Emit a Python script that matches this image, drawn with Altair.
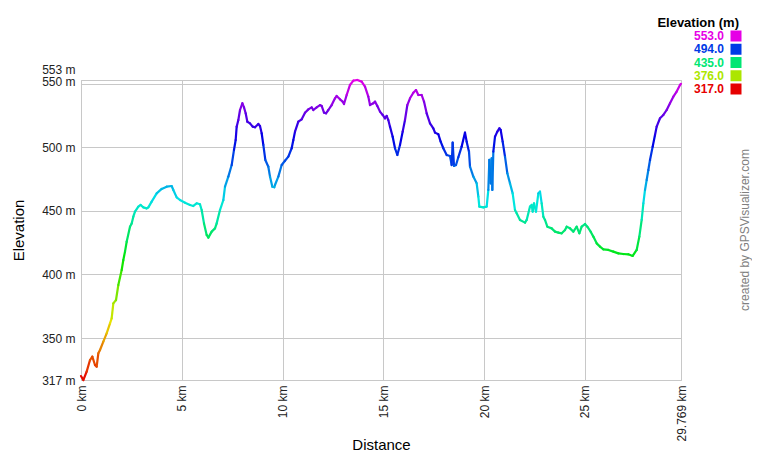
import altair as alt
import pandas as pd

# ---- data (distance in km, elevation in m) ----
distance_km = [
    0.0, 0.116, 0.281, 0.447, 0.562, 0.695, 0.777, 0.860, 0.943, 1.108,
    1.273, 1.439, 1.521, 1.604, 1.737, 1.852, 2.018, 2.100, 2.183, 2.266,
    2.431, 2.514, 2.596, 2.679, 2.845, 2.960, 3.093, 3.258, 3.341, 3.506,
    3.754, 4.002, 4.251, 4.499, 4.581, 4.747, 4.912, 5.160, 5.408, 5.573,
    5.739, 5.904, 5.987, 6.103, 6.235, 6.318, 6.484, 6.648, 6.731, 6.896,
    7.062, 7.145, 7.310, 7.476, 7.591, 7.674, 7.724, 7.806, 7.889, 8.005,
    8.087, 8.170, 8.253, 8.385, 8.517, 8.633, 8.798, 8.881, 8.964, 9.046,
    9.146, 9.295, 9.377, 9.493, 9.592,
    9.625, 9.791, 9.956, 10.121, 10.287, 10.452, 10.535, 10.618, 10.783, 10.949,
    11.114, 11.279, 11.445, 11.527, 11.693, 11.858, 11.941, 12.056, 12.156, 12.272,
    12.437, 12.602, 12.685, 12.850, 12.983, 13.049, 13.181, 13.346, 13.512, 13.710,
    13.925, 14.091, 14.256, 14.339, 14.504, 14.587, 14.703, 14.835, 14.967, 15.083,
    15.166, 15.248, 15.331, 15.464, 15.579, 15.695, 15.827, 15.960, 16.075, 16.191,
    16.323, 16.489, 16.621, 16.737, 16.902, 17.018, 17.150, 17.316, 17.481, 17.564,
    17.729, 17.845, 17.977, 18.143, 18.308, 18.391, 18.440, 18.506, 18.606, 18.721,
    18.887, 19.052, 19.135, 19.251,
    19.300, 19.466, 19.631, 19.714, 19.763, 19.962, 20.127, 20.210, 20.259, 20.326,
    20.375, 20.408, 20.458, 20.541, 20.656, 20.756, 20.822, 20.921, 21.037, 21.153,
    21.285, 21.417, 21.533, 21.616, 21.781, 22.029, 22.112, 22.277, 22.360, 22.410,
    22.476, 22.575, 22.691, 22.773, 22.856, 22.939, 23.021, 23.137, 23.352, 23.518,
    23.683, 23.849, 24.014, 24.097, 24.262, 24.427, 24.593, 24.725, 24.841, 25.006,
    25.122, 25.287, 25.420, 25.585, 25.750, 25.916, 26.164, 26.412, 26.660, 26.908,
    27.156, 27.371, 27.570, 27.702, 27.818, 27.901, 27.983, 28.066, 28.149, 28.231,
    28.364, 28.479, 28.562, 28.727, 28.893, 29.058, 29.223, 29.389, 29.554, 29.720,
    29.769,
]

elevation_m = [
    320.1, 317.0, 323.6, 332.7, 335.4, 328.8, 327.5, 338.0, 340.6, 347.2,
    353.7, 361.6, 365.5, 377.3, 379.9, 391.7, 403.5, 411.4, 418.0, 425.8,
    437.6, 440.2, 445.5, 449.4, 453.4, 454.7, 452.8, 452.0, 452.8, 457.3,
    463.8, 467.3, 469.1, 469.6, 466.5, 460.7, 458.6, 456.5, 454.7, 453.9,
    456.0, 455.2, 450.7, 440.2, 431.1, 429.0, 433.7, 436.3, 440.2, 450.7,
    458.6, 469.1, 477.0, 486.1, 498.0, 505.8, 516.3, 521.5, 529.4, 534.7,
    531.5, 526.8, 520.2, 518.9, 516.3, 515.8, 518.4, 516.8, 511.1, 501.9,
    490.1, 484.8, 477.0, 469.1, 468.6,
    470.4, 477.0, 486.1, 489.5, 492.7, 499.3, 505.8, 512.4, 520.2, 522.1,
    527.3, 529.9, 531.5, 529.4, 531.5, 533.3, 532.6, 527.3, 526.8, 529.4,
    533.3, 538.6, 540.4, 537.8, 536.0, 534.1, 541.2, 549.1, 552.5, 553.0,
    551.7, 547.8, 539.9, 533.3, 534.7, 536.0, 532.6, 528.1, 525.5, 522.9,
    524.7, 521.5, 516.3, 508.4, 499.3, 494.0, 501.9, 512.4, 521.5, 533.3,
    538.6, 543.0, 545.1, 541.2, 541.2, 536.0, 526.8, 518.9, 515.0, 511.6,
    510.3, 504.5, 499.3, 494.0, 493.2, 486.1, 503.7, 485.4, 486.1, 492.2,
    500.6, 511.6, 504.5, 496.6,
    484.8, 477.0, 471.7, 461.2, 453.4, 452.8, 453.4, 466.5, 490.1, 471.7,
    491.4, 466.5, 496.6, 508.4, 512.4, 515.0, 513.7, 504.5, 492.7, 479.6,
    471.7, 463.8, 450.7, 448.1, 442.9, 440.8, 442.9, 453.4, 454.7, 449.4,
    456.0, 449.4, 463.8, 465.2, 456.0, 445.5, 442.9, 437.6, 436.3, 433.7,
    432.9, 432.4, 435.0, 437.6, 436.3, 433.7, 437.6, 432.4, 437.6, 439.7,
    437.6, 433.7, 429.8, 424.5, 421.9, 419.8, 419.3, 418.0, 416.6, 416.1,
    415.9, 414.6, 419.3, 429.8, 442.9, 456.0, 466.5, 474.3, 482.2, 490.1,
    500.6, 509.7, 516.3, 522.9, 525.5, 529.4, 534.7, 539.9, 543.9, 549.1,
    550.0,
]

x_ticks = [0, 5, 10, 15, 20, 25, 29.769]
y_ticks = [317, 350, 400, 450, 500, 550, 553]
legend_values = [553.0, 494.0, 435.0, 376.0, 317.0]
legend_title = "Elevation (m)"
watermark = "created by GPSVisualizer.com"

# hue ramp red -> yellow -> green -> cyan -> blue -> magenta over 317..553
ramp_colors = ["#e60000", "#e6e600", "#00e600", "#00e6e6", "#0000e6", "#e600e6"]
lo, hi = 317.0, 553.0
ramp_domain = [lo + k * (hi - lo) / 5 for k in range(6)]
color_scale = alt.Scale(domain=ramp_domain, range=ramp_colors, interpolate="rgb")

FONT = "Liberation Sans"

# ---- segments so that each piece of the profile gets its own colour ----
pts = pd.DataFrame({"d": distance_km, "e": elevation_m})
seg = pts.copy()
seg["d2"] = pts["d"].shift(-1)
seg["e2"] = pts["e"].shift(-1)
seg = seg.dropna()
seg["em"] = (seg["e"] + seg["e2"]) / 2

profile = alt.Chart(seg).mark_rule(strokeWidth=2.2, strokeCap="round").encode(
    x=alt.X(
        "d:Q",
        scale=alt.Scale(domain=[0, distance_km[-1]], nice=False, zero=False),
        axis=alt.Axis(
            values=x_ticks,
            labelExpr="datum.value + ' km'",
            labelAngle=270,
            labelAlign="right",
            labelBaseline="middle",
            labelPadding=5,
            labelFlush=False,
            labelOverlap=False,
            ticks=False,
            domain=False,
            grid=True,
            gridColor="#c8c8c8",
            labelFont=FONT,
            labelFontSize=12,
            labelColor="#222222",
            title="Distance",
            titleFont=FONT,
            titleFontSize=15,
            titleFontWeight="normal",
            titleColor="#000000",
            titleY=69,
            titleBaseline="alphabetic",
        ),
    ),
    x2="d2:Q",
    y=alt.Y(
        "e:Q",
        scale=alt.Scale(domain=[lo, hi], nice=False, zero=False),
        axis=alt.Axis(
            values=y_ticks,
            labelExpr="datum.value + ' m'",
            labelPadding=6,
            labelFlush=False,
            labelOverlap=False,
            labelOffset={
                "condition": [
                    {"test": "datum.value == 553", "value": -11},
                    {"test": "datum.value == 550", "value": -2},
                ],
                "value": 0,
            },
            ticks=False,
            domain=False,
            grid=True,
            gridColor="#c8c8c8",
            labelFont=FONT,
            labelFontSize=12,
            labelColor="#222222",
            title="Elevation",
            titleFont=FONT,
            titleFontSize=15,
            titleFontWeight="normal",
            titleColor="#000000",
            titleAngle=270,
            titleX=-63,
            titleY=150,
            titleAlign="center",
            titleBaseline="middle",
        ),
    ),
    y2="e2:Q",
    color=alt.Color("em:Q", scale=color_scale, legend=None),
)

# ---- custom legend (coloured labels + squares) ----
leg = pd.DataFrame({"value": legend_values, "rank": list(range(len(legend_values)))})
leg_base = alt.Chart(leg).transform_calculate(ypix="-44 + datum.rank * 13.25")

leg_text = leg_base.mark_text(
    align="right", baseline="middle", font=FONT, fontSize=12, fontWeight="bold"
).encode(
    x=alt.value(643),
    y=alt.Y("ypix:Q", scale=None, axis=None),
    text=alt.Text("value:Q", format=".1f"),
    color=alt.Color("value:Q", scale=color_scale, legend=None),
)

leg_sq = leg_base.mark_square(size=121, opacity=1, filled=True).encode(
    x=alt.value(655),
    y=alt.Y("ypix:Q", scale=None, axis=None),
    color=alt.Color("value:Q", scale=color_scale, legend=None),
)

leg_title = alt.Chart(pd.DataFrame({"t": [legend_title]})).mark_text(
    align="right", baseline="alphabetic", font=FONT, fontSize=13, fontWeight="bold",
    color="#000000",
).encode(x=alt.value(658), y=alt.value(-53), text="t:N")

credit = alt.Chart(pd.DataFrame({"t": [watermark]})).mark_text(
    angle=270, align="center", baseline="middle", font=FONT, fontSize=12,
    color="#808080",
).encode(x=alt.value(664), y=alt.value(150), text="t:N")

chart = (
    alt.layer(profile, leg_text, leg_sq, leg_title, credit)
    .resolve_scale(y="independent")
    .properties(
        width=600,
        height=300,
        autosize=alt.AutoSizeParams(type="none"),
        padding={"left": 73, "top": 72, "right": 71, "bottom": 72},
        background="#ffffff",
    )
    .configure_view(stroke="#c8c8c8", strokeWidth=1)
)

chart.save("out.html", embed_options={"renderer": "svg", "actions": False})
